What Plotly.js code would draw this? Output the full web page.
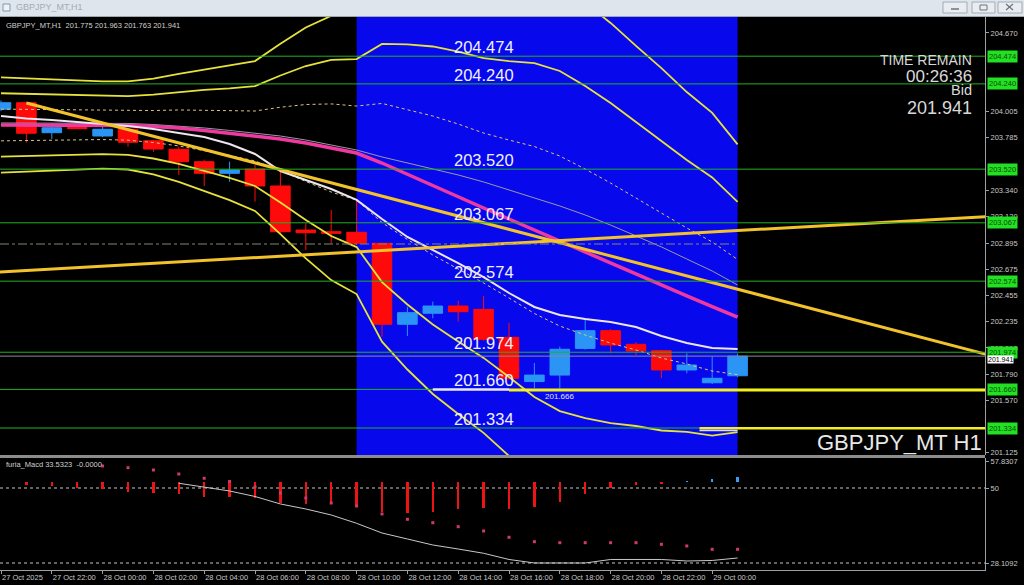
<!DOCTYPE html>
<html><head><meta charset="utf-8">
<script src="https://cdn.plot.ly/plotly-3.0.1.min.js"></script>
<style>html,body{margin:0;padding:0;background:#000;overflow:hidden}#chart{width:1024px;height:585px}</style>
</head><body><div id="chart"></div>
<script>
// ---------- data ----------
const times = ["2025-10-27 20:00","2025-10-27 21:00","2025-10-27 22:00","2025-10-27 23:00",
"2025-10-28 00:00","2025-10-28 01:00","2025-10-28 02:00","2025-10-28 03:00","2025-10-28 04:00","2025-10-28 05:00",
"2025-10-28 06:00","2025-10-28 07:00","2025-10-28 08:00","2025-10-28 09:00","2025-10-28 10:00","2025-10-28 11:00",
"2025-10-28 12:00","2025-10-28 13:00","2025-10-28 14:00","2025-10-28 15:00","2025-10-28 16:00","2025-10-28 17:00",
"2025-10-28 18:00","2025-10-28 19:00","2025-10-28 20:00","2025-10-28 21:00","2025-10-28 22:00","2025-10-28 23:00",
"2025-10-29 00:00","2025-10-29 01:00"];
const openP  = [204.026,204.081,203.828,203.872,203.800,203.857,203.760,203.688,203.583,203.485,203.521,203.378,203.006,202.992,202.987,202.894,202.210,202.303,202.364,202.336,202.100,201.726,201.781,202.006,202.156,202.041,201.987,201.824,201.716,201.775];
const highP  = [204.100,204.088,203.910,203.880,203.877,203.870,203.770,203.710,203.600,203.583,203.555,203.513,203.063,203.175,203.260,202.900,202.358,202.401,202.409,202.449,202.223,201.883,202.021,202.252,202.170,202.060,201.995,201.965,201.936,201.963];
const lowP   = [204.010,203.744,203.775,203.858,203.790,203.710,203.667,203.471,203.378,203.414,203.245,202.980,202.837,202.894,202.880,202.105,202.111,202.260,202.232,202.070,201.740,201.672,201.666,201.995,201.965,201.950,201.754,201.796,201.705,201.763];
const closeP = [204.081,203.823,203.870,203.862,203.857,203.747,203.690,203.583,203.485,203.513,203.378,202.992,202.983,202.978,202.894,202.210,202.308,202.364,202.316,202.083,201.754,201.781,201.999,202.156,202.035,201.984,201.824,201.866,201.754,201.941];

// Bollinger middle (pink) and one standard deviation, read per bar
const bbMid = [203.893,203.893,203.893,203.893,203.893,203.889,203.880,203.868,203.847,203.825,203.800,203.775,203.741,203.699,203.656,203.572,203.475,203.382,203.289,203.192,203.099,203.006,202.913,202.820,202.727,202.635,202.537,202.449,202.360,202.271];
const bbDev = [0.134,0.131,0.129,0.127,0.123,0.124,0.135,0.152,0.171,0.189,0.211,0.268,0.325,0.372,0.397,0.503,0.549,0.587,0.612,0.633,0.667,0.705,0.718,0.701,0.676,0.642,0.612,0.574,0.545,0.486];
const fastMA = [203.969,203.948,203.935,203.918,203.906,203.885,203.859,203.825,203.792,203.732,203.648,203.504,203.428,203.352,203.260,203.099,202.947,202.837,202.727,202.609,202.474,202.356,202.288,202.254,202.229,202.187,202.111,202.052,202.010,202.001];
const slowMA = [203.910,203.910,203.910,203.910,203.910,203.906,203.897,203.885,203.868,203.847,203.825,203.800,203.766,203.724,203.682,203.623,203.572,203.521,203.471,203.412,203.344,203.276,203.209,203.133,203.048,202.956,202.863,202.761,202.660,202.542];

const levels = [204.474,204.240,203.520,203.067,202.574,201.974,201.660,201.334];
const bidPrice = 201.941;
const dashLevel = 202.888;
const supportA = 201.655, supportB = 201.317;
const trendDownT = ["2025-10-27 21:00","2025-10-29 12:00"], trendDownP = [204.079,201.888];
const trendUpT   = ["2025-10-27 19:00","2025-10-29 12:00"], trendUpP   = [202.640,203.134];

const priceTicks = [204.670,204.005,203.785,203.340,203.120,202.895,202.675,202.455,202.235,202.010,201.790,201.570,201.125];
const tickIdx  = [0,2,4,6,8,10,12,14,16,18,20,22,24,26,28];
const tickText = ["27 Oct 2025","27 Oct 22:00","28 Oct 00:00","28 Oct 02:00","28 Oct 04:00","28 Oct 06:00","28 Oct 08:00","28 Oct 10:00","28 Oct 12:00","28 Oct 14:00","28 Oct 16:00","28 Oct 18:00","28 Oct 20:00","28 Oct 22:00","29 Oct 00:00"];

// furia_Macd sub-window
const histBase = 51.67;
const macdHist = [null,50.88,50.59,50.10,49.72,48.93,48.64,48.17,47.47,47.47,47.00,45.54,45.25,45.25,45.05,43.09,42.80,43.09,43.88,44.08,43.88,44.37,45.83,48.17,49.92,50.88,51.18,52.14,52.55,53.31];
const macdDots = [null,null,null,null,56.43,55.93,55.26,54.09,52.84,51.90,50.30,48.55,47.09,45.63,44.75,42.42,40.87,39.88,38.71,37.46,35.62,34.33,34.04,34.04,34.04,34.04,33.57,33.08,32.11,32.11];
const macdSignal = [null,null,null,null,null,null,null,51.38,50.30,49.13,47.53,45.34,43.88,42.13,39.70,36.87,35.12,33.37,32.20,30.95,29.14,28.12,28.12,28.12,29.14,29.14,29.14,28.70,28.85,29.58];
const macdTicks = [57.8307,50,28.1092];

// ---------- layout helpers ----------
const PW = 985, TOP = 17, BOT = 570, PH = BOT - TOP;
const px = v => v / PW;
const py = v => (BOT - v) / PH;
function iso(ms){ return new Date(ms).toISOString().replace('T',' ').replace('Z',''); }
const t0 = Date.UTC(2025,9,27,20,0,0), H = 3600000;
const xRange = [iso(t0 - 0.0394*H), iso(t0 + 38.74*H)];
const FONT = "Liberation Sans, Arial, sans-serif";

const traces = [];
traces.push({type:'candlestick', x:times, open:openP, high:highP, low:lowP, close:closeP,
  increasing:{line:{color:'#2a95f5',width:1}, fillcolor:'#2a95f5'},
  decreasing:{line:{color:'#ff0a0a',width:1}, fillcolor:'#ff0a0a'},
  whiskerwidth:0, xaxis:'x', yaxis:'y', hoverinfo:'skip', showlegend:false});

function band(k){ return bbMid.map((m,i)=>m + k*bbDev[i]); }
[3,2,-2,-3].forEach(k => traces.push({type:'scatter',mode:'lines',x:times,y:band(k),
  line:{color:'#e6e23c',width:1.8},xaxis:'x',yaxis:'y',hoverinfo:'skip',showlegend:false}));
[1,-1].forEach(k => traces.push({type:'scatter',mode:'lines',x:times,y:band(k),
  line:{color:'#dcc486',width:1,dash:'dot'},xaxis:'x',yaxis:'y',hoverinfo:'skip',showlegend:false}));
traces.push({type:'scatter',mode:'lines',x:times,y:slowMA,line:{color:'#9a9aa8',width:1},xaxis:'x',yaxis:'y',hoverinfo:'skip',showlegend:false});
traces.push({type:'scatter',mode:'lines',x:times,y:bbMid,line:{color:'#ee3aa0',width:3.5},xaxis:'x',yaxis:'y',hoverinfo:'skip',showlegend:false});
traces.push({type:'scatter',mode:'lines',x:times,y:fastMA,line:{color:'#ece6ee',width:2},xaxis:'x',yaxis:'y',hoverinfo:'skip',showlegend:false});
traces.push({type:'scatter',mode:'lines',x:trendDownT,y:trendDownP,line:{color:'#f2c22a',width:3},xaxis:'x',yaxis:'y',hoverinfo:'skip',showlegend:false});
traces.push({type:'scatter',mode:'lines',x:trendUpT,y:trendUpP,line:{color:'#f2c22a',width:3},xaxis:'x',yaxis:'y',hoverinfo:'skip',showlegend:false});

// sub-window
traces.push({type:'bar', x:times, y:macdHist.map(v => v===null?null:v-histBase), base:histBase, width:320000,
  marker:{color:macdHist.map(v => v!==null && v>histBase ? '#3a9cf0' : '#ee1414'), line:{width:0}},
  xaxis:'x', yaxis:'y2', hoverinfo:'skip', showlegend:false});
traces.push({type:'scatter',mode:'markers',x:times,y:macdDots,marker:{symbol:'square',size:3,color:'#d2386c'},xaxis:'x',yaxis:'y2',hoverinfo:'skip',showlegend:false});
traces.push({type:'scatter',mode:'lines',x:times,y:macdSignal,line:{color:'#c8c8c8',width:1},xaxis:'x',yaxis:'y2',hoverinfo:'skip',showlegend:false});

// ---------- shapes ----------
const shapes = [];
shapes.push({type:'rect',xref:'x',yref:'paper',x0:times[14],x1:times[29],y0:py(455),y1:1,fillcolor:'#0808ec',line:{width:0},layer:'below'});
shapes.push({type:'line',xref:'x',yref:'y',x0:xRange[0],x1:times[29],y0:dashLevel,y1:dashLevel,line:{color:'#7d8a70',width:1,dash:'dashdot'},layer:'above'});
levels.forEach(l => shapes.push({type:'line',xref:'paper',yref:'y',x0:0,x1:1,y0:l,y1:l,line:{color:'#22b022',width:1},layer:'above'}));
shapes.push({type:'line',xref:'paper',yref:'y',x0:0,x1:1,y0:bidPrice,y1:bidPrice,line:{color:'#8a8a9a',width:1},layer:'above'});
shapes.push({type:'line',xref:'x',yref:'y',x0:times[17],x1:times[20],y0:supportA+0.004,y1:supportA+0.004,line:{color:'#e8e8f4',width:2.5},layer:'above'});
shapes.push({type:'line',xref:'x',yref:'y',x0:times[20],x1:xRange[1],y0:supportA,y1:supportA,line:{color:'#f4f020',width:3},layer:'above'});
shapes.push({type:'line',xref:'x',yref:'y',x0:"2025-10-28 23:30",x1:xRange[1],y0:supportB+0.014,y1:supportB+0.014,line:{color:'#f4f020',width:2.5},layer:'above'});
shapes.push({type:'line',xref:'x',yref:'y',x0:"2025-10-28 23:30",x1:times[29],y0:supportB-0.004,y1:supportB-0.004,line:{color:'#dcdcdc',width:1.5},layer:'above'});
[50, 28.1092].forEach(v => shapes.push({type:'line',xref:'paper',yref:'y2',x0:0,x1:1,y0:v,y1:v,line:{color:'#c8c8c8',width:1,dash:'dot'},layer:'below'}));
shapes.push({type:'rect',xref:'paper',yref:'paper',x0:0,x1:1,y0:py(458),y1:py(455),fillcolor:'#8c8c8c',line:{width:0},layer:'above'});
// window title bar
shapes.push({type:'rect',xref:'paper',yref:'paper',x0:0,x1:px(1024),y0:py(16),y1:py(0),fillcolor:'#dfe5ec',line:{width:0},layer:'above'});
shapes.push({type:'line',xref:'paper',yref:'paper',x0:0,x1:px(1024),y0:py(16.5),y1:py(16.5),line:{color:'#9ea6ae',width:1},layer:'above'});
shapes.push({type:'rect',xref:'paper',yref:'paper',x0:px(3),x1:px(10),y0:py(11),y1:py(4),fillcolor:'#eef2f6',line:{color:'#7f97b0',width:1},layer:'above'});
[[943,967],[972,995],[998,1022]].forEach(b => shapes.push({type:'rect',xref:'paper',yref:'paper',x0:px(b[0]),x1:px(b[1]),y0:py(13),y1:py(2),fillcolor:'#e9edf2',line:{color:'#a2abb5',width:1},layer:'above'}));
shapes.push({type:'line',xref:'paper',yref:'paper',x0:px(951),x1:px(959),y0:py(9),y1:py(9),line:{color:'#6a737c',width:1.5},layer:'above'});
shapes.push({type:'rect',xref:'paper',yref:'paper',x0:px(980),x1:px(987),y0:py(10),y1:py(5),line:{color:'#6a737c',width:1},layer:'above'});
shapes.push({type:'line',xref:'paper',yref:'paper',x0:px(1006),x1:px(1013),y0:py(10),y1:py(4),line:{color:'#6a737c',width:1.2},layer:'above'});
shapes.push({type:'line',xref:'paper',yref:'paper',x0:px(1006),x1:px(1013),y0:py(4),y1:py(10),line:{color:'#6a737c',width:1.2},layer:'above'});

// ---------- annotations ----------
const ann = [];
const labelTime = "2025-10-28 13:48";
levels.forEach(l => ann.push({xref:'x',yref:'y',x:labelTime,y:l,xanchor:'left',yanchor:'bottom',text:l.toFixed(3),showarrow:false,
  font:{family:FONT,size:16.5,color:'#eef0ff'},borderpad:0,yshift:-1}));
levels.forEach(l => ann.push({xref:'paper',yref:'y',x:1,y:l,xanchor:'left',yanchor:'middle',xshift:2,text:l.toFixed(3),showarrow:false,
  font:{family:FONT,size:7.5,color:'#0a4a0a'},bgcolor:'#22e022',borderpad:1}));
ann.push({xref:'paper',yref:'y',x:1,y:bidPrice,xanchor:'left',yanchor:'top',xshift:2,yshift:1,text:bidPrice.toFixed(3),showarrow:false,
  font:{family:FONT,size:7,color:'#000'},bgcolor:'#ffffff',borderpad:0});
ann.push({xref:'x',yref:'y',x:times[22],y:lowP[22],xanchor:'center',yanchor:'top',text:lowP[22].toFixed(3),showarrow:false,
  font:{family:FONT,size:8,color:'#e0e0f0'},yshift:-1});
ann.push({xref:'paper',yref:'paper',x:px(4),y:py(25),xanchor:'left',yanchor:'middle',showarrow:false,
  text:'GBPJPY_MT,H1  '+[openP[29],highP[29],lowP[29],closeP[29]].map(v=>v.toFixed(3)).join(' '),font:{family:FONT,size:7.5,color:'#d0d0d0'}});
ann.push({xref:'paper',yref:'paper',x:px(14),y:py(7.5),xanchor:'left',yanchor:'middle',showarrow:false,
  text:'GBPJPY_MT,H1',font:{family:FONT,size:9,color:'#a4acb4'}});
ann.push({xref:'paper',yref:'paper',x:px(4),y:py(464),xanchor:'left',yanchor:'middle',showarrow:false,
  text:'furia_Macd 33.5323  -0.0000',font:{family:FONT,size:7.5,color:'#d0d0d0'}});
const rx = px(973);
[['TIME REMAIN',60,14],['00:26:36',76,17],['Bid',90,14.5],[closeP[29].toFixed(3),108,18]].forEach(r =>
  ann.push({xref:'paper',yref:'paper',x:rx,y:py(r[1]),xanchor:'right',yanchor:'middle',showarrow:false,text:r[0],
  font:{family:FONT,size:r[2],color:'#d8d8d8'},borderpad:0}));
ann.push({xref:'paper',yref:'paper',x:px(983),y:py(442),xanchor:'right',yanchor:'middle',showarrow:false,text:'GBPJPY_MT H1',
  font:{family:FONT,size:22,color:'#e8e8e8'},borderpad:0});

const axisCommon = {showgrid:false,zeroline:false,showline:true,linecolor:'#a0a0a0',linewidth:1,ticks:'outside',ticklen:3,tickcolor:'#a0a0a0',fixedrange:true};
const layout = {
  width:1024,height:585,margin:{l:0,r:39,t:17,b:15,pad:0},
  paper_bgcolor:'#000',plot_bgcolor:'#000',showlegend:false,hovermode:false,
  boxgap:0.23,boxgroupgap:0,bargap:0,
  xaxis:Object.assign({},axisCommon,{type:'date',range:xRange,anchor:'y2',domain:[0,1],
    tickvals:tickIdx.map(i=>times[i]),ticktext:tickText,ticklabelposition:'outside right',tickangle:0,
    tickfont:{family:FONT,size:7.5,color:'#c8c8c8'},rangeslider:{visible:false}}),
  yaxis:Object.assign({},axisCommon,{domain:[py(455),1],range:[201.106,204.805],side:'right',anchor:'x',
    tickvals:priceTicks,ticktext:priceTicks.map(v=>v.toFixed(3)),tickfont:{family:FONT,size:7.5,color:'#c8c8c8'}}),
  yaxis2:Object.assign({},axisCommon,{domain:[0,py(458)],range:[26.07,58.76],side:'right',anchor:'x',
    tickvals:macdTicks,ticktext:macdTicks.map(String),tickfont:{family:FONT,size:7.5,color:'#c8c8c8'}}),
  shapes:shapes, annotations:ann
};
Plotly.newPlot('chart', traces, layout, {displayModeBar:false, staticPlot:true});
</script></body></html>
